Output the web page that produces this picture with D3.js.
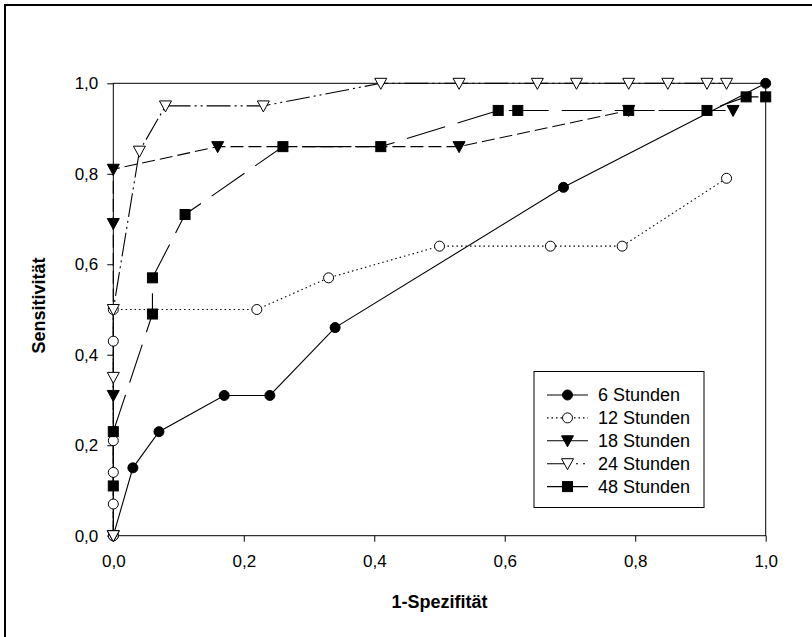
<!DOCTYPE html>
<html>
<head>
<meta charset="utf-8">
<script src="https://cdn.jsdelivr.net/npm/d3@7"></script>
<style>
    body { margin: 0; background: #fff; }
    svg { display: block; font-family: "Liberation Sans", Arial, sans-serif; }
</style>
</head>
<body>
<div id="chart"></div>
<script>
// Series names (legend order)
const seriesNames = ["6 Stunden", "12 Stunden", "18 Stunden", "24 Stunden", "48 Stunden"];

// 1-Spezifität / Sensitivität for each series
const fpr6 = [0, 0.03, 0.07, 0.17, 0.24, 0.34, 0.69, 1.0];
const sens6 = [0, 0.15, 0.23, 0.31, 0.31, 0.46, 0.77, 1.0];

const fpr12 = [0, 0, 0, 0, 0, 0, 0.22, 0.33, 0.50, 0.67, 0.78, 0.94];
const sens12 = [0, 0.07, 0.14, 0.21, 0.43, 0.50, 0.50, 0.57, 0.64, 0.64, 0.64, 0.79];

const fpr18 = [0, 0, 0, 0, 0.16, 0.53, 0.79, 0.95];
const sens18 = [0, 0.31, 0.69, 0.81, 0.86, 0.86, 0.94, 0.94];

const fpr24 = [0, 0, 0, 0.04, 0.08, 0.23, 0.41, 0.53, 0.65, 0.71, 0.79, 0.85, 0.91, 0.94];
const sens24 = [0, 0.35, 0.50, 0.85, 0.95, 0.95, 1, 1, 1, 1, 1, 1, 1, 1];

const fpr48 = [0, 0, 0.06, 0.06, 0.11, 0.26, 0.41, 0.59, 0.62, 0.79, 0.91, 0.97, 1.0];
const sens48 = [0.11, 0.23, 0.49, 0.57, 0.71, 0.86, 0.86, 0.94, 0.94, 0.94, 0.94, 0.97, 0.97];

const tickValues = [0, 0.2, 0.4, 0.6, 0.8, 1.0];

// Style per series: marker shape, fill, dash pattern (plot and legend)
const styles = [
    { symbol: "circle", fill: "#000", dash: null, legendDash: null },
    { symbol: "circle", fill: "#fff", dash: "1.5,3", legendDash: "1.5,3" },
    { symbol: "tri", fill: "#000", dash: "13,5", legendDash: null },
    { symbol: "tri", fill: "#fff", dash: "24,4,2,4,2,4", legendDash: "24,5,2,5,2,5" },
    { symbol: "square", fill: "#000", dash: "40,13", legendDash: null },
];

const allSeries = [
    [fpr6, sens6],
    [fpr12, sens12],
    [fpr18, sens18],
    [fpr24, sens24],
    [fpr48, sens48],
].map(([xs, ys], i) => ({
    name: seriesNames[i],
    style: styles[i],
    points: xs.map((x, j) => ({ x: x, y: ys[j] })),
}));

const width = 812;
const height = 637;

const svg = d3
    .select("#chart")
    .append("svg")
    .attr("width", width)
    .attr("height", height);

// outer frame (runs off the right and bottom edges)
svg.append("rect")
    .attr("x", 5)
    .attr("y", 5)
    .attr("width", 830)
    .attr("height", 660)
    .attr("fill", "none")
    .attr("stroke", "#000")
    .attr("stroke-width", 2);

const x = d3.scaleLinear().domain([0, 1]).range([113.3, 765.7]);
const y = d3.scaleLinear().domain([0, 1]).range([535.7, 83.3]);

const fmt = (d) => d3.format(".1f")(d).replace(".", ",");

// axes
const xAxis = svg.append("g")
    .attr("transform", `translate(0, ${y(0)})`)
    .call(d3.axisBottom(x).tickValues(tickValues).tickFormat(fmt).tickSize(6).tickSizeOuter(0));
const yAxis = svg.append("g")
    .attr("transform", `translate(${x(0)}, 0)`)
    .call(d3.axisLeft(y).tickValues(tickValues).tickFormat(fmt).tickSize(6).tickSizeOuter(0));

[xAxis, yAxis].forEach((g) => {
    g.select(".domain").remove();
    g.selectAll("line").attr("stroke", "#000");
    g.selectAll("text")
        .attr("fill", "#000")
        .style("font-size", "17px")
        .style("font-family", "Liberation Sans, Arial, sans-serif");
});
xAxis.selectAll("text").attr("dy", 0).attr("y", 31);
yAxis.selectAll("text").attr("x", -15);

// plot box
svg.append("rect")
    .attr("x", x(0))
    .attr("y", y(1))
    .attr("width", x(1) - x(0))
    .attr("height", y(0) - y(1))
    .attr("fill", "none")
    .attr("stroke", "#000")
    .attr("stroke-width", 1);

// axis titles
svg.append("text")
    .attr("x", (x(0) + x(1)) / 2)
    .attr("y", 608)
    .attr("text-anchor", "middle")
    .style("font-size", "18px")
    .style("font-weight", "bold")
    .text("1-Spezifität");

svg.append("text")
    .attr("transform", `translate(45, ${(y(0) + y(1)) / 2 - 4}) rotate(-90)`)
    .attr("text-anchor", "middle")
    .style("font-size", "18px")
    .style("font-weight", "bold")
    .text("Sensitivität");

// marker drawing
const triPath = (cx, cy) => `M${cx - 6},${cy - 5}L${cx + 6},${cy - 5}L${cx},${cy + 6}Z`;

function drawMarker(g, style, cx, cy) {
    if (style.symbol === "circle") {
        g.append("circle")
            .attr("cx", cx).attr("cy", cy).attr("r", 5)
            .attr("fill", style.fill).attr("stroke", "#000").attr("stroke-width", 1);
    } else if (style.symbol === "square") {
        g.append("rect")
            .attr("x", cx - 5).attr("y", cy - 5).attr("width", 10).attr("height", 10)
            .attr("fill", style.fill).attr("stroke", "#000").attr("stroke-width", 1);
    } else {
        g.append("path")
            .attr("d", triPath(cx, cy))
            .attr("fill", style.fill).attr("stroke", "#000").attr("stroke-width", 1);
    }
}

const line = d3.line().x((d) => x(d.x)).y((d) => y(d.y));

// lines
allSeries.forEach((s) => {
    svg.append("path")
        .datum(s.points)
        .attr("d", line)
        .attr("fill", "none")
        .attr("stroke", "#000")
        .attr("stroke-width", 1.1)
        .attr("stroke-dasharray", s.style.dash);
});

// markers
allSeries.forEach((s) => {
    const g = svg.append("g");
    s.points.forEach((p) => drawMarker(g, s.style, x(p.x), y(p.y)));
});

// legend
const legend = svg.append("g");
legend.append("rect")
    .attr("x", 534)
    .attr("y", 371.5)
    .attr("width", 170)
    .attr("height", 136)
    .attr("fill", "#fff")
    .attr("stroke", "#000")
    .attr("stroke-width", 1);

allSeries.forEach((s, i) => {
    const ly = 395 + i * 22.9;
    legend.append("line")
        .attr("x1", 547).attr("x2", 588)
        .attr("y1", ly).attr("y2", ly)
        .attr("stroke", "#000")
        .attr("stroke-width", 1.1)
        .attr("stroke-dasharray", s.style.legendDash);
    drawMarker(legend, s.style, 567.5, ly);
    legend.append("text")
        .attr("x", 598)
        .attr("y", ly)
        .attr("dy", "0.36em")
        .style("font-size", "18px")
        .text(s.name);
});
</script>
</body>
</html>
